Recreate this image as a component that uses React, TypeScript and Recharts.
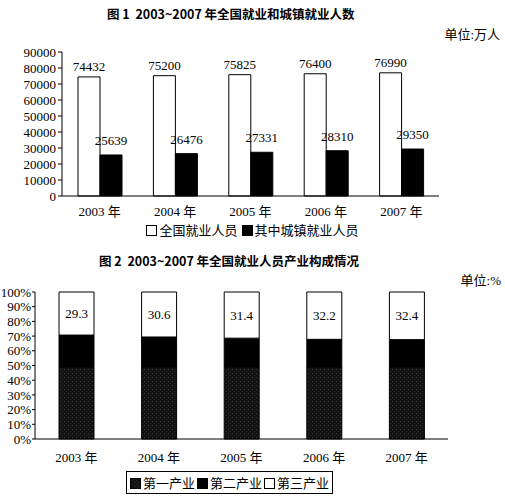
import React from "react";
import {
  BarChart,
  Bar,
  XAxis,
  YAxis,
  Legend,
  LabelList,
} from "recharts";

const years = ["2003 年", "2004 年", "2005 年", "2006 年", "2007 年"];
const totalEmployed = [74432, 75200, 75825, 76400, 76990];
const urbanEmployed = [25639, 26476, 27331, 28310, 29350];
const employTicks = [0, 10000, 20000, 30000, 40000, 50000, 60000, 70000, 80000, 90000];

const primaryShare = [49, 49, 49, 49, 49];
const secondaryShare = [21.7, 20.4, 19.6, 18.8, 18.6];
const tertiaryShare = [29.3, 30.6, 31.4, 32.2, 32.4];
const shareTicks = [0, 10, 20, 30, 40, 50, 60, 70, 80, 90, 100];

const employData = years.map((year, i) => ({
  year,
  total: totalEmployed[i],
  urban: urbanEmployed[i],
}));

const shareData = years.map((year, i) => ({
  year,
  primary: primaryShare[i],
  secondary: secondaryShare[i],
  tertiary: tertiaryShare[i],
}));

const SERIF = '"Liberation Serif", "Noto Sans CJK SC", serif';
const TITLE_FONT = '"Noto Sans CJK SC", "DejaVu Sans", sans-serif';
const tickStyle = { fontSize: 13, fill: "#000", fontFamily: SERIF };

const Swatch = ({ fill }: { fill: string }) => (
  <svg width={11} height={11} style={{ verticalAlign: "-1px", marginRight: 2 }}>
    <rect x={0.5} y={0.5} width={10} height={10} fill={fill} stroke="#000" />
  </svg>
);

function EmployLegend() {
  return (
    <div style={{ textAlign: "center", fontFamily: SERIF, fontSize: 13, color: "#000" }}>
      <span style={{ marginRight: 4 }}>
        <Swatch fill="#fff" />全国就业人员
      </span>
      <span>
        <Swatch fill="#000" />其中城镇就业人员
      </span>
    </div>
  );
}

function ShareLegend() {
  return (
    <div
      style={{
        display: "inline-block",
        border: "1px solid #000",
        padding: "1px 3px",
        fontFamily: SERIF,
        fontSize: 13,
        color: "#000",
        whiteSpace: "nowrap",
      }}
    >
      <span style={{ marginRight: 2 }}>
        <Swatch fill="url(#primaryDots)" />第一产业
      </span>
      <span style={{ marginRight: 2 }}>
        <Swatch fill="#000" />第二产业
      </span>
      <span>
        <Swatch fill="#fff" />第三产业
      </span>
    </div>
  );
}

export default function App() {
  return (
    <div
      style={{
        position: "absolute",
        left: 0,
        top: 0,
        width: 505,
        height: 497,
        background: "#fff",
        color: "#000",
      }}
    >
      <svg width={0} height={0} style={{ position: "absolute" }}>
        <defs>
          <pattern id="primaryDots" width={4} height={4} patternUnits="userSpaceOnUse">
            <rect width={4} height={4} fill="#121212" />
            <rect x={0} y={0} width={1} height={1} fill="#3c3c3c" />
            <rect x={2} y={2} width={1} height={1} fill="#2c2c2c" />
          </pattern>
        </defs>
      </svg>

      <div
        style={{
          position: "absolute",
          left: 107,
          top: 4,
          fontFamily: TITLE_FONT,
          fontWeight: 700,
          fontSize: 12.5,
          whiteSpace: "nowrap",
        }}
      >
        图 1&nbsp; 2003~2007 年全国就业和城镇就业人数
      </div>
      <div
        style={{
          position: "absolute",
          right: 5,
          top: 24,
          fontFamily: SERIF,
          fontSize: 13,
          whiteSpace: "nowrap",
        }}
      >
        单位:万人
      </div>

      <div style={{ position: "absolute", left: 0, top: 0 }}>
        <BarChart
          width={505}
          height={245}
          data={employData}
          margin={{ top: 52, right: 66, bottom: 19, left: 8 }}
          barSize={22}
          barGap={0}
        >
          <XAxis
            dataKey="year"
            height={30}
            tick={tickStyle}
            tickLine={false}
            axisLine={{ stroke: "#000" }}
            tickMargin={5}
          />
          <YAxis
            width={54}
            domain={[0, 90000]}
            ticks={employTicks}
            interval={0}
            tick={tickStyle}
            tickLine={{ stroke: "#000" }}
            tickSize={4}
            tickMargin={2}
            axisLine={{ stroke: "#000" }}
          />
          <Legend
            layout="horizontal"
            verticalAlign="middle"
            align="center"
            wrapperStyle={{ top: 220, left: 0, width: 505 }}
            content={() => <EmployLegend />}
          />
          <Bar dataKey="total" fill="#fff" stroke="#000" isAnimationActive={false}>
            <LabelList
              dataKey="total"
              position="top"
              offset={6}
              style={{ fontSize: 13, fill: "#000", fontFamily: SERIF }}
            />
          </Bar>
          <Bar dataKey="urban" fill="#000" stroke="#000" isAnimationActive={false}>
            <LabelList
              dataKey="urban"
              position="top"
              offset={10}
              style={{ fontSize: 13, fill: "#000", fontFamily: SERIF }}
            />
          </Bar>
        </BarChart>
      </div>

      <div
        style={{
          position: "absolute",
          left: 99,
          top: 251,
          fontFamily: TITLE_FONT,
          fontWeight: 700,
          fontSize: 12.5,
          whiteSpace: "nowrap",
        }}
      >
        图 2&nbsp; 2003~2007 年全国就业人员产业构成情况
      </div>
      <div
        style={{
          position: "absolute",
          right: 4,
          top: 270,
          fontFamily: SERIF,
          fontSize: 13,
          whiteSpace: "nowrap",
        }}
      >
        单位:%
      </div>

      <div style={{ position: "absolute", left: 0, top: 245 }}>
        <BarChart
          width={505}
          height={252}
          data={shareData}
          margin={{ top: 47, right: 57, bottom: 28, left: 3 }}
          barSize={35}
        >
          <XAxis
            dataKey="year"
            height={30}
            tick={tickStyle}
            tickLine={false}
            axisLine={{ stroke: "#000" }}
            tickMargin={8}
          />
          <YAxis
            width={32}
            domain={[0, 100]}
            ticks={shareTicks}
            interval={0}
            tickFormatter={(v: number) => `${v}%`}
            tick={tickStyle}
            tickLine={{ stroke: "#000" }}
            tickSize={3}
            tickMargin={1}
            axisLine={{ stroke: "#000" }}
          />
          <Legend
            layout="horizontal"
            verticalAlign="middle"
            align="center"
            wrapperStyle={{ top: 226, left: 126, width: 210 }}
            content={() => <ShareLegend />}
          />
          <Bar
            dataKey="primary"
            stackId="s"
            fill="url(#primaryDots)"
            stroke="#000"
            isAnimationActive={false}
          />
          <Bar
            dataKey="secondary"
            stackId="s"
            fill="#000"
            stroke="#000"
            isAnimationActive={false}
          />
          <Bar
            dataKey="tertiary"
            stackId="s"
            fill="#fff"
            stroke="#000"
            isAnimationActive={false}
          >
            <LabelList
              dataKey="tertiary"
              position="center"
              style={{ fontSize: 13, fill: "#000", fontFamily: SERIF }}
            />
          </Bar>
        </BarChart>
      </div>
    </div>
  );
}
